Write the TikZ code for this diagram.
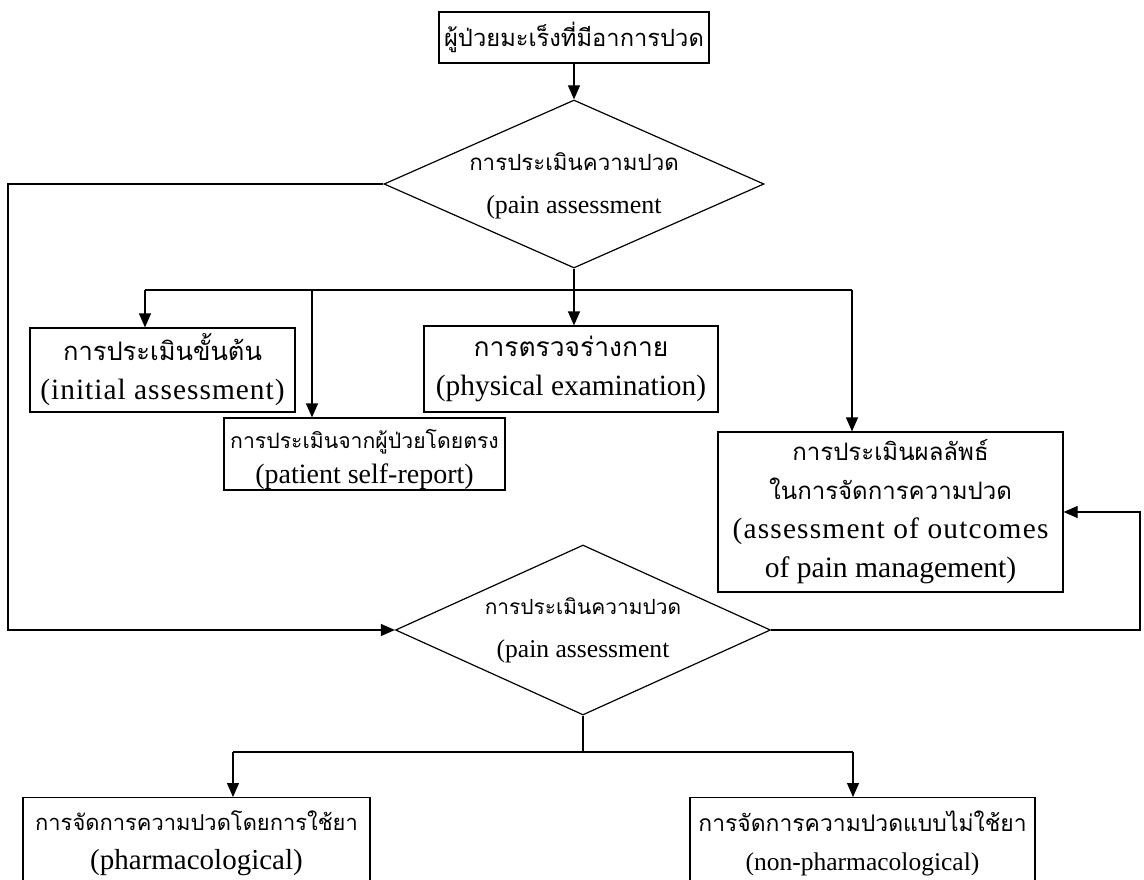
\documentclass[tikz,border=0pt]{standalone}
\usepackage{fontspec}
\setmainfont{Liberation Serif}
\newfontfamily\thaifont[Script=Thai]{Loma}
\usetikzlibrary{arrows.meta,shapes.geometric}
\newcommand\ThaiL[3]{{\thaifont\fontsize{#1}{#2}\selectfont #3}}
\newcommand\EngL[3]{{\fontsize{#1}{#2}\selectfont #3}}
\newcommand\EngLS[4]{{\addfontfeatures{LetterSpace=#4}\fontsize{#1}{#2}\selectfont #3}}
\tikzset{
  box/.style={draw,line width=1.2pt,rectangle,inner sep=0pt,align=center,
    font=\fontsize{28}{39}\selectfont},
  dia/.style={draw,line width=1.2pt,diamond,inner sep=0pt},
  lbl/.style={align=center,inner sep=0pt,font=\fontsize{28}{43}\selectfont},
  ln/.style={line width=1.2pt},
  arr/.style={line width=1.2pt,-{Triangle[length=14pt,width=12pt]}}
}
\begin{document}
\begin{tikzpicture}[x=1pt,y=-1pt]
\clip (0,0) rectangle (1144,880);
\fill[white] (0,0) rectangle (1144,880);
% nodes
\node[box,minimum width=270pt,minimum height=51pt] (top) at (574,37.5) {\ThaiL{23.7}{39}{ผู้ป่วยมะเร็งที่มีอาการปวด}};
\node[dia,minimum width=380pt,minimum height=168pt] (d1) at (574,184) {};
\node[lbl] (d1t) at (574,186) {\ThaiL{22.3}{43}{การประเมินความปวด}\\\EngL{26}{43}{(pain assessment}};
\node[box,minimum width=265pt,minimum height=84pt] (init) at (162.5,370) {\ThaiL{25.5}{39}{การประเมินขั้นต้น}\\\EngLS{29.4}{39}{(initial assessment)}{3.4}};
\node[box,minimum width=294pt,minimum height=86pt] (phys) at (571,369) {\ThaiL{26.4}{39}{การตรวจร่างกาย}\\\EngL{29.4}{39}{(physical examination)}};
\node[box,minimum width=281pt,minimum height=72pt] (self) at (364.5,454) {};
\node[lbl] (selft) at (364.5,459) {\ThaiL{21.2}{33}{การประเมินจากผู้ป่วยโดยตรง}\\[-8pt]\EngL{28}{33}{(patient self-report)}};
\node[box,minimum width=345pt,minimum height=160pt] (outc) at (890.5,512) {\ThaiL{24}{39}{การประเมินผลลัพธ์}\\\ThaiL{24}{39}{ในการจัดการความปวด}\\\EngLS{29.4}{39}{(assessment of outcomes}{4}\\\EngL{29.6}{38}{of pain management)}};
\node[dia,minimum width=375pt,minimum height=170pt] (d2) at (583,630) {};
\node[lbl] (d2t) at (583,630) {\ThaiL{20.9}{43}{การประเมินความปวด}\\\EngL{25.6}{43}{(pain assessment}};
\node[box,minimum width=347pt,minimum height=110pt,anchor=north] (pharm) at (196.5,797) {\rule{0pt}{0pt}\\[-37pt]\ThaiL{21.9}{40}{การจัดการความปวดโดยการใช้ยา}\\\EngL{29}{40}{(pharmacological)}};
\node[box,minimum width=345pt,minimum height=110pt,anchor=north] (nonph) at (862.5,797) {\rule{0pt}{0pt}\\[-37pt]\ThaiL{22.9}{40}{การจัดการความปวดแบบไม่ใช้ยา}\\\EngL{25.5}{40}{(non-pharmacological)}};
% coordinates
\coordinate (L1) at (8,184);
\coordinate (R1) at (1140,630);
\coordinate (b1) at (145,290);
\coordinate (b2) at (312,290);
\coordinate (b3) at (574,290);
\coordinate (b4) at (852,290);
\coordinate (c0) at (583,752);
\coordinate (c1) at (233,752);
\coordinate (c2) at (853,752);
% connectors
\draw[arr] (top.south) -- (d1.north);
\draw[arr] (d1.west) -- (L1) |- (d2.west);
\draw[arr] (d2.east) -- (R1) |- (outc.east);
\draw[ln] (d1.south) -- (b3);
\draw[ln] (b1) -- (b4);
\draw[arr] (b1) -- (b1 |- init.north);
\draw[arr] (b2) -- (b2 |- self.north);
\draw[arr] (b3) -- (b3 |- phys.north);
\draw[arr] (b4) -- (b4 |- outc.north);
\draw[ln] (d2.south) -- (c0);
\draw[ln] (c1) -- (c2);
\draw[arr] (c1) -- (c1 |- pharm.north);
\draw[arr] (c2) -- (c2 |- nonph.north);
\end{tikzpicture}
\end{document}
